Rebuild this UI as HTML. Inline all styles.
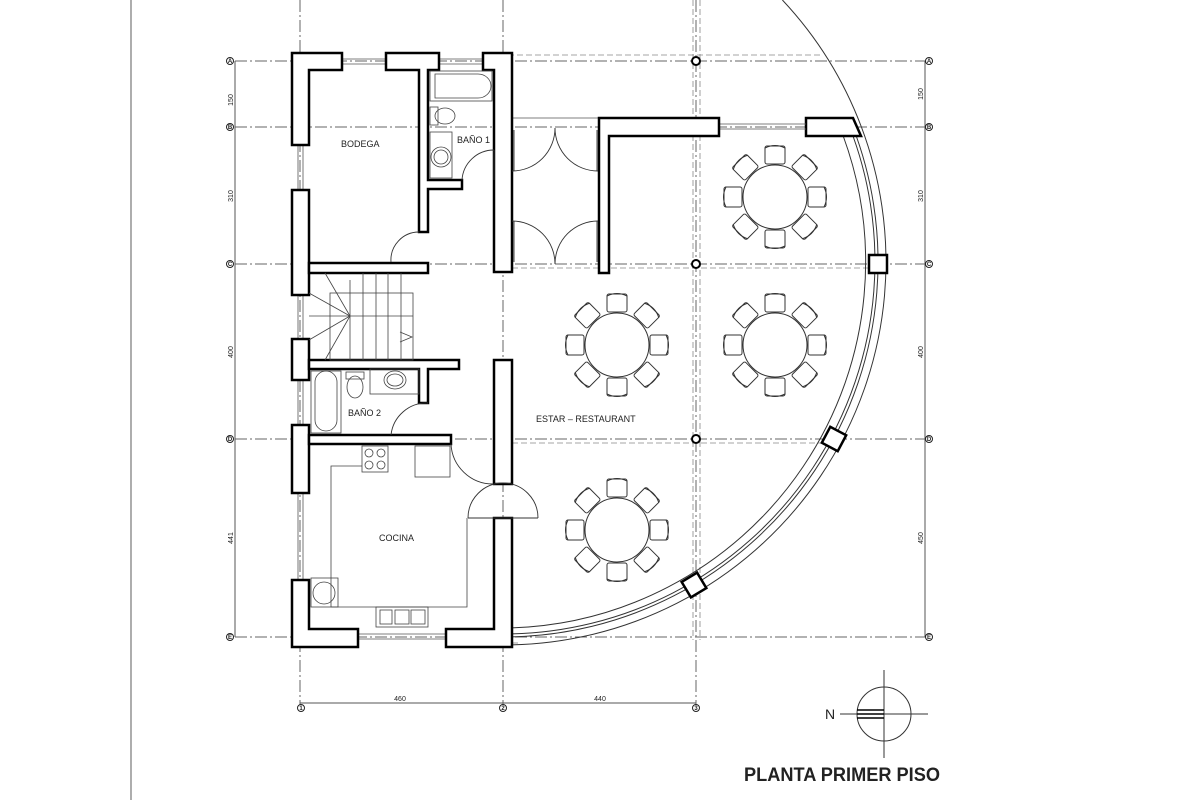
<!DOCTYPE html>
<html><head><meta charset="utf-8"><style>
html,body{margin:0;padding:0;background:#fff;width:1200px;height:800px;overflow:hidden}
svg{display:block}
text{font-family:"Liberation Sans",sans-serif;fill:#222}
</style></head><body>
<svg width="1200" height="800" viewBox="0 0 1200 800" xmlns="http://www.w3.org/2000/svg">
<defs>
<g id="tbl" fill="#fff" stroke="#333" stroke-width="1">
 <g id="ch"><rect x="-10" y="-51" width="20" height="18" rx="2"/><path d="M-10,-49 Q0,-54 10,-49" fill="none"/></g>
 <use href="#ch" transform="rotate(45)"/><use href="#ch" transform="rotate(90)"/><use href="#ch" transform="rotate(135)"/>
 <use href="#ch" transform="rotate(180)"/><use href="#ch" transform="rotate(225)"/><use href="#ch" transform="rotate(270)"/><use href="#ch" transform="rotate(315)"/>
 <circle r="32"/>
</g>
</defs>

<!-- page border -->
<line x1="131" y1="0" x2="131" y2="800" stroke="#777" stroke-width="1.2"/>

<!-- grid lines -->
<g stroke="#666" stroke-width="1" stroke-dasharray="12 3 2 3" fill="none">
 <line x1="235" y1="61" x2="932" y2="61"/>
 <line x1="235" y1="127" x2="932" y2="127"/>
 <line x1="235" y1="264" x2="932" y2="264"/>
 <line x1="235" y1="439" x2="932" y2="439"/>
 <line x1="235" y1="637" x2="932" y2="637"/>
 <line x1="300" y1="0" x2="300" y2="706"/>
 <line x1="503" y1="0" x2="503" y2="706"/>
 <line x1="696" y1="0" x2="696" y2="706"/>
</g>
<g stroke="#888" stroke-width="0.8" stroke-dasharray="6 3" fill="none">
 <line x1="693" y1="0" x2="693" y2="640"/>
 <line x1="700" y1="0" x2="700" y2="640"/>
 <line x1="490" y1="55" x2="820" y2="55"/>
 <line x1="512" y1="268" x2="870" y2="268"/>
 <line x1="512" y1="443" x2="835" y2="443"/>
 <line x1="512" y1="643" x2="520" y2="643"/>
</g>

<!-- dimension lines -->
<g stroke="#555" stroke-width="1">
 <line x1="235" y1="61" x2="235" y2="637"/>
 <line x1="925" y1="61" x2="925" y2="637"/>
 <line x1="300" y1="703" x2="696" y2="703"/>
</g>
<g font-size="7" fill="#444">
 <text transform="translate(233,100) rotate(-90)" text-anchor="middle">150</text>
 <text transform="translate(233,196) rotate(-90)" text-anchor="middle">310</text>
 <text transform="translate(233,352) rotate(-90)" text-anchor="middle">400</text>
 <text transform="translate(233,538) rotate(-90)" text-anchor="middle">441</text>
 <text transform="translate(923,94) rotate(-90)" text-anchor="middle">150</text>
 <text transform="translate(923,196) rotate(-90)" text-anchor="middle">310</text>
 <text transform="translate(923,352) rotate(-90)" text-anchor="middle">400</text>
 <text transform="translate(923,538) rotate(-90)" text-anchor="middle">450</text>
 <text x="400" y="701" text-anchor="middle">460</text>
 <text x="600" y="701" text-anchor="middle">440</text>
</g>
<!-- grid bubbles -->
<g fill="#fff" stroke="#222" stroke-width="1">
 <circle cx="230" cy="61" r="3.5"/><circle cx="230" cy="127" r="3.5"/><circle cx="230" cy="264" r="3.5"/><circle cx="230" cy="439" r="3.5"/><circle cx="230" cy="637" r="3.5"/>
 <circle cx="929" cy="61" r="3.5"/><circle cx="929" cy="127" r="3.5"/><circle cx="929" cy="264" r="3.5"/><circle cx="929" cy="439" r="3.5"/><circle cx="929" cy="637" r="3.5"/>
 <circle cx="301" cy="708" r="3.5"/><circle cx="503" cy="708" r="3.5"/><circle cx="696" cy="708" r="3.5"/>
</g>
<g font-size="6" font-weight="bold" text-anchor="middle">
 <text x="230" y="63">A</text><text x="230" y="129">B</text><text x="230" y="266">C</text><text x="230" y="441">D</text><text x="230" y="639">E</text>
 <text x="929" y="63">A</text><text x="929" y="129">B</text><text x="929" y="266">C</text><text x="929" y="441">D</text><text x="929" y="639">E</text>
 <text x="301" y="710">1</text><text x="503" y="710">2</text><text x="696" y="710">3</text>
</g>

<!-- curved wall -->
<g fill="none" stroke="#333" stroke-width="1">
 <path d="M782.4,0 A383,383 0 0 1 861.4,127"/>
 <path d="M861.4,127 A383,383 0 0 1 512,644.9"/>
 <path d="M852.9,127 A375,375 0 0 1 512,636.9"/>
 <path d="M849.6,127 A372,372 0 0 1 512,633.9"/>
 <path d="M843.2,136 A366,366 0 0 1 512,627.9"/>
</g>
<g fill="#fff" stroke="#000" stroke-width="2.5">
 <rect x="869" y="255" width="18" height="18"/>
 <rect x="-9" y="-9" width="18" height="18" transform="translate(834,439) rotate(28)"/>
 <rect x="-9" y="-9" width="18" height="18" transform="translate(694,585) rotate(59)"/>
 <polygon points="806,118 853,118 861,136 806,136"/>
</g>

<!-- windows (thin double lines) -->
<g stroke="#555" stroke-width="0.8" fill="none">
 <line x1="342" y1="59" x2="386" y2="59"/><line x1="342" y1="64" x2="386" y2="64"/>
 <line x1="439" y1="59" x2="483" y2="59"/><line x1="439" y1="64" x2="483" y2="64"/>
 <line x1="719" y1="124" x2="806" y2="124"/><line x1="719" y1="129" x2="806" y2="129"/>
 <line x1="358" y1="634" x2="446" y2="634"/><line x1="358" y1="639" x2="446" y2="639"/>
 <line x1="298" y1="145" x2="298" y2="190"/><line x1="303" y1="145" x2="303" y2="190"/>
 <line x1="298" y1="295" x2="298" y2="339"/><line x1="303" y1="295" x2="303" y2="339"/>
 <line x1="298" y1="380" x2="298" y2="425"/><line x1="303" y1="380" x2="303" y2="425"/>
 <line x1="298" y1="493" x2="298" y2="580"/><line x1="303" y1="493" x2="303" y2="580"/>
 <line x1="512" y1="118" x2="599" y2="118"/>
</g>

<!-- walls -->
<g fill="#fff" stroke="#000" stroke-width="2.5" stroke-linejoin="miter">
 <polygon points="292,53 342,53 342,70 309,70 309,145 292,145"/>
 <rect x="292" y="190" width="17" height="105"/>
 <rect x="292" y="339" width="17" height="41"/>
 <rect x="292" y="425" width="17" height="68"/>
 <polygon points="292,580 309,580 309,629 358,629 358,647 292,647"/>
 <polygon points="386,53 439,53 439,70 428,70 428,180 462,180 462,189 428,189 428,232 419,232 419,70 386,70"/>
 <polygon points="483,53 512,53 512,272 494,272 494,70 483,70"/>
 <rect x="309" y="263" width="119" height="10"/>
 <polygon points="309,360 459,360 459,369 428,369 428,403 419,403 419,369 309,369"/>
 <rect x="309" y="435" width="142" height="9"/>
 <rect x="494" y="360" width="18" height="124"/>
 <polygon points="494,518 512,518 512,647 446,647 446,629 494,629"/>
 <polygon points="599,118 719,118 719,136 609,136 609,273 599,273"/>
</g>

<!-- columns -->
<g fill="#fff" stroke="#000" stroke-width="2">
 <circle cx="696" cy="61" r="4"/><circle cx="696" cy="264" r="4"/><circle cx="696" cy="439" r="4"/>
</g>

<!-- doors -->
<g fill="none" stroke="#333" stroke-width="0.9">
 <path d="M391,262 A28,28 0 0 1 419,232"/>
 <path d="M462,180 A32,32 0 0 1 494,150"/><line x1="494" y1="150" x2="494" y2="180"/>
 <path d="M391,435 A36,36 0 0 1 428,403"/>
 <path d="M451,444 A42,42 0 0 0 493,484"/>
 <path d="M468,518 A35,35 0 0 1 538,518"/><line x1="468" y1="518" x2="538" y2="518"/>
 <path d="M512,171 A43,43 0 0 0 555,128"/><path d="M555,128 A43,43 0 0 0 598,171"/>
 <path d="M512,221 A43,43 0 0 1 555,264"/><path d="M555,264 A43,43 0 0 1 598,221"/>
 <line x1="514" y1="130" x2="514" y2="171"/><line x1="597" y1="130" x2="597" y2="171"/>
 <line x1="514" y1="221" x2="514" y2="262"/><line x1="597" y1="221" x2="597" y2="262"/>
</g>

<!-- stairs -->
<g fill="none" stroke="#444" stroke-width="0.8">
 <rect x="330" y="293" width="83" height="67"/>
 <line x1="350" y1="280" x2="350" y2="360"/><line x1="363" y1="273" x2="363" y2="360"/><line x1="376" y1="273" x2="376" y2="360"/>
 <line x1="388" y1="273" x2="388" y2="360"/><line x1="401" y1="273" x2="401" y2="360"/>
 <line x1="309" y1="316" x2="413" y2="316"/>
 <line x1="350" y1="316" x2="325" y2="273"/><line x1="350" y1="316" x2="309" y2="293"/><line x1="350" y1="316" x2="309" y2="340"/><line x1="350" y1="316" x2="325" y2="360"/>
 <polyline points="400,332 412,337 400,342"/>
</g>

<!-- bathroom fixtures -->
<g fill="none" stroke="#444" stroke-width="0.8">
 <rect x="430" y="71" width="62" height="30"/><path d="M435,74 H478 A13,12 0 0 1 478,98 H435 Z"/>
 <rect x="430" y="107" width="8" height="18"/><ellipse cx="445" cy="116" rx="10" ry="8"/>
 <rect x="430" y="132" width="22" height="46"/><circle cx="441" cy="157" r="10"/><circle cx="441" cy="157" r="7"/>
 <rect x="311" y="371" width="30" height="62"/><path d="M315,382 A11,11 0 0 1 337,382 V420 A11,11 0 0 1 315,420 Z"/>
 <rect x="346" y="372" width="18" height="7"/><ellipse cx="355" cy="387" rx="8" ry="11"/>
 <rect x="370" y="369" width="49" height="25"/><ellipse cx="395" cy="380" rx="11" ry="9"/><ellipse cx="395" cy="380" rx="8" ry="6"/>
</g>

<!-- kitchen -->
<g fill="none" stroke="#444" stroke-width="0.8">
 <polyline points="362,466 331,466 331,607 467,607 467,518"/>
 <rect x="362" y="446" width="26" height="26"/>
 <circle cx="369" cy="453" r="4"/><circle cx="381" cy="453" r="4"/><circle cx="369" cy="465" r="4"/><circle cx="381" cy="465" r="4"/>
 <rect x="415" y="446" width="35" height="31"/>
 <rect x="311" y="578" width="27" height="29"/><circle cx="324" cy="593" r="11"/>
 <rect x="376" y="607" width="52" height="20"/><rect x="380" y="610" width="12" height="14"/><rect x="395" y="610" width="14" height="14"/><rect x="411" y="610" width="14" height="14"/>
</g>

<!-- tables -->
<use href="#tbl" transform="translate(775,197)"/>
<use href="#tbl" transform="translate(617,345)"/>
<use href="#tbl" transform="translate(775,345)"/>
<use href="#tbl" transform="translate(617,530)"/>

<!-- labels -->
<g font-size="9" fill="#222">
 <text x="341" y="147">BODEGA</text>
 <text x="457" y="143">BAÑO 1</text>
 <text x="348" y="416">BAÑO 2</text>
 <text x="379" y="541">COCINA</text>
 <text x="536" y="422">ESTAR – RESTAURANT</text>
</g>

<!-- north -->
<g stroke="#333" stroke-width="1" fill="none">
 <circle cx="884" cy="714" r="27"/>
 <line x1="884" y1="670" x2="884" y2="758"/>
 <line x1="840" y1="714" x2="928" y2="714"/>
</g>
<g stroke="#000" stroke-width="1.6">
 <line x1="857" y1="710" x2="884" y2="710"/><line x1="857" y1="714" x2="884" y2="714"/><line x1="857" y1="718" x2="884" y2="718"/>
</g>
<text x="825" y="719" font-size="14">N</text>
<text x="744" y="781" font-size="19" font-weight="bold" textLength="196" lengthAdjust="spacingAndGlyphs" fill="#111">PLANTA PRIMER PISO</text>
</svg>
</body></html>
